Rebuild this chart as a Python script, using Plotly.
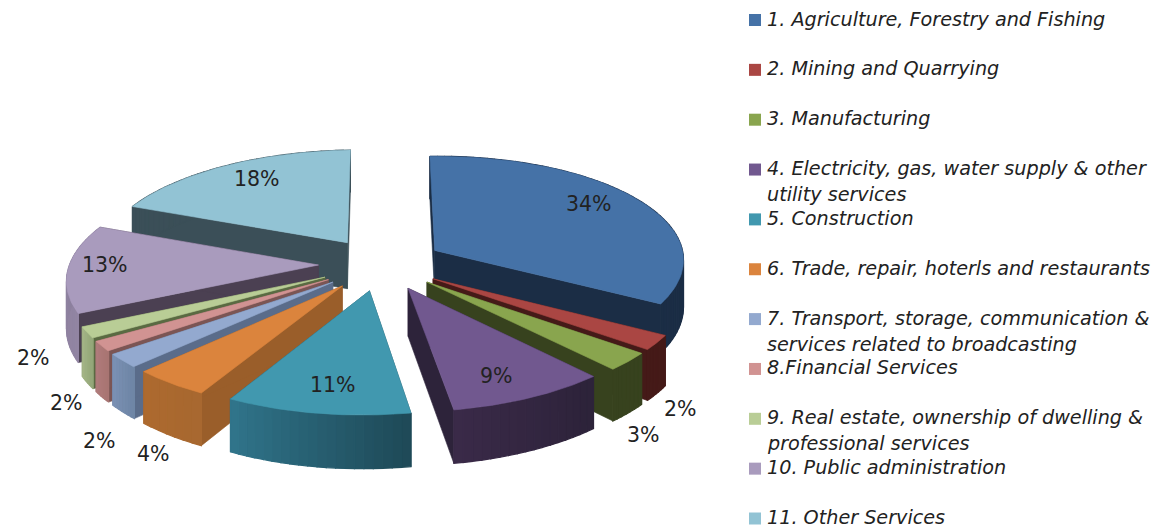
import numpy as np
import plotly.graph_objects as go

# ---- data ----
CATEGORIES = [
    "1. Agriculture, Forestry and Fishing",
    "2. Mining and Quarrying",
    "3. Manufacturing",
    "4. Electricity, gas, water supply & other<br>utility services",
    "5. Construction",
    "6. Trade, repair, hoterls and restaurants",
    "7. Transport, storage, communication &<br>services related to broadcasting",
    "8.Financial Services",
    "9. Real estate, ownership of dwelling &<br>professional services",
    "10. Public administration",
    "11. Other Services",
]
VALUES = [33.6, 2.2, 2.7, 9.1, 10.55, 4.45, 2.2, 1.6, 1.8, 13.31, 18.49]

# ---- styles ----
TOP = ["#4572A7", "#AA4643", "#89A54E", "#71588F", "#4198AF", "#DB843D",
       "#93A9CF", "#D19392", "#B9CD96", "#A99BBD", "#92C3D4"]
CUT = ["#1B2D45", "#451A18", "#37421E", "#2D233A", "#234E5C", "#9A5E2A",
       "#5A6C8A", "#7B5554", "#5A6A42", "#4B4052", "#3B4F58"]
WALL_START = ["#1B2D45", "#451A18", "#37421E", "#2D233A", "#1F4A58", "#A86830",
              "#6F86A6", "#A87573", "#93A678", "#9285A3", "#3B4F58"]
WALL_END = ["#1B2D45", "#451A18", "#37421E", "#3A2A48", "#30748A", "#AD6A2F",
            "#7A90B3", "#B07C7B", "#A3B486", "#8A7D9B", "#3B4F58"]
LABEL_OFFSET = [(154, -46), (248, 130), (217, 153), (88, 88), (-36, 94), (-189, 168),
                (-233, 159), (-262, 123), (-292, 81), (-213, 0), (-90, -64)]
TEXT_COLOR = "#222222"
FONT = "DejaVu Sans"

# ---- projection of the exploded pie ----
CX, CY, RX, RY, PERSP_X, PERSP_Y, SHEAR, EXPLODE, DEPTH = 381, 264, 250, 106, 0.10, 0.10, 3, 0.25, 47


def project(th, r, em, lift=0.0):
    X = EXPLODE * np.sin(em) + r * np.sin(th)
    Y = EXPLODE * np.cos(em) + r * np.cos(th)
    sx = 1.0 / (1.0 + PERSP_X * Y)
    sy = 1.0 / (1.0 + PERSP_Y * Y)
    return CX + RX * X * sx, CY - RY * Y * sy - SHEAR * X + lift * sy


def hex2rgb(h):
    return np.array([int(h[i:i + 2], 16) for i in (1, 3, 5)], float)


def mix(a, b, t):
    c = hex2rgb(a) * (1 - t) + hex2rgb(b) * t
    return "rgb(%d,%d,%d)" % tuple(c)


def poly(fig, xs, ys, color, width=0.6):
    fig.add_trace(go.Scatter(x=list(xs), y=list(ys), mode="lines", fill="toself", fillcolor=color,
                             line=dict(color=color, width=width), hoverinfo="skip", showlegend=False))


fig = go.Figure()
vals = np.array(VALUES, float)
edges = np.concatenate([[0], np.cumsum(vals)]) / vals.sum() * 2 * np.pi
mids = (edges[:-1] + edges[1:]) / 2

# back-to-front painting order
order = sorted(range(len(VALUES)), key=lambda i: -np.cos(mids[i]))
for i in order:
    a, b, m = edges[i], edges[i + 1], mids[i]
    thetas = np.linspace(a, b, max(8, int(VALUES[i] * 2)))
    ax, ay = project(m, 0, m)
    ax2, ay2 = project(m, 0, m, DEPTH)
    # cut faces
    for t in (a, b):
        ox, oy = project(t, 1, m)
        ox2, oy2 = project(t, 1, m, DEPTH)
        poly(fig, [ax, ox, ox2, ax2, ax], [ay, oy, oy2, ay2, ay], CUT[i])
    # outer wall, shaded piece by piece
    for k in range(len(thetas) - 1):
        p = [project(thetas[k], 1, m), project(thetas[k + 1], 1, m),
             project(thetas[k + 1], 1, m, DEPTH), project(thetas[k], 1, m, DEPTH)]
        poly(fig, [q[0] for q in p] + [p[0][0]], [q[1] for q in p] + [p[0][1]],
             mix(WALL_START[i], WALL_END[i], k / max(1, len(thetas) - 2)), 1.2)
    # top face
    tx, ty = project(np.linspace(a, b, 60), 1, m)
    poly(fig, [ax, *tx, ax], [ay, *ty, ay], TOP[i])

annotations = []
# percentage labels
for i, v in enumerate(VALUES):
    ax, ay = project(mids[i], 0, mids[i])
    annotations.append(dict(x=ax + LABEL_OFFSET[i][0], y=ay + LABEL_OFFSET[i][1], text=f"{round(v)}%", showarrow=False,
                            font=dict(family=FONT, size=20.5, color=TEXT_COLOR), xanchor="center", yanchor="middle"))

# legend: coloured squares and italic text
LEGEND_X, LEGEND_TEXT_X, LEGEND_Y0, LEGEND_STEP, LEGEND_LINE = 755, 767, 20, 49.85, 26
for i, name in enumerate(CATEGORIES):
    y = LEGEND_Y0 + LEGEND_STEP * i
    fig.add_trace(go.Scatter(x=[LEGEND_X], y=[y], mode="markers", name=name.replace("<br>", " "),
                             marker=dict(symbol="square", size=12, color=TOP[i]), hoverinfo="skip", showlegend=False))
    for j, line in enumerate(name.split("<br>")):
        annotations.append(dict(x=LEGEND_TEXT_X, y=y + j * LEGEND_LINE - 1, text=f"<i>{line}</i>", showarrow=False,
                                font=dict(family=FONT, size=19.2, color=TEXT_COLOR),
                                xanchor="left", yanchor="middle", xshift=-2))

fig.update_layout(
    width=1161, height=528, margin=dict(l=0, r=0, t=0, b=0),
    paper_bgcolor="white", plot_bgcolor="white", showlegend=False,
    xaxis=dict(range=[0, 1161], visible=False, fixedrange=True),
    yaxis=dict(range=[528, 0], visible=False, fixedrange=True),
    annotations=annotations,
)
fig.write_html("out.html", config=dict(displayModeBar=False),
               post_script="document.body.style.margin='0';document.documentElement.style.overflow='hidden';")
